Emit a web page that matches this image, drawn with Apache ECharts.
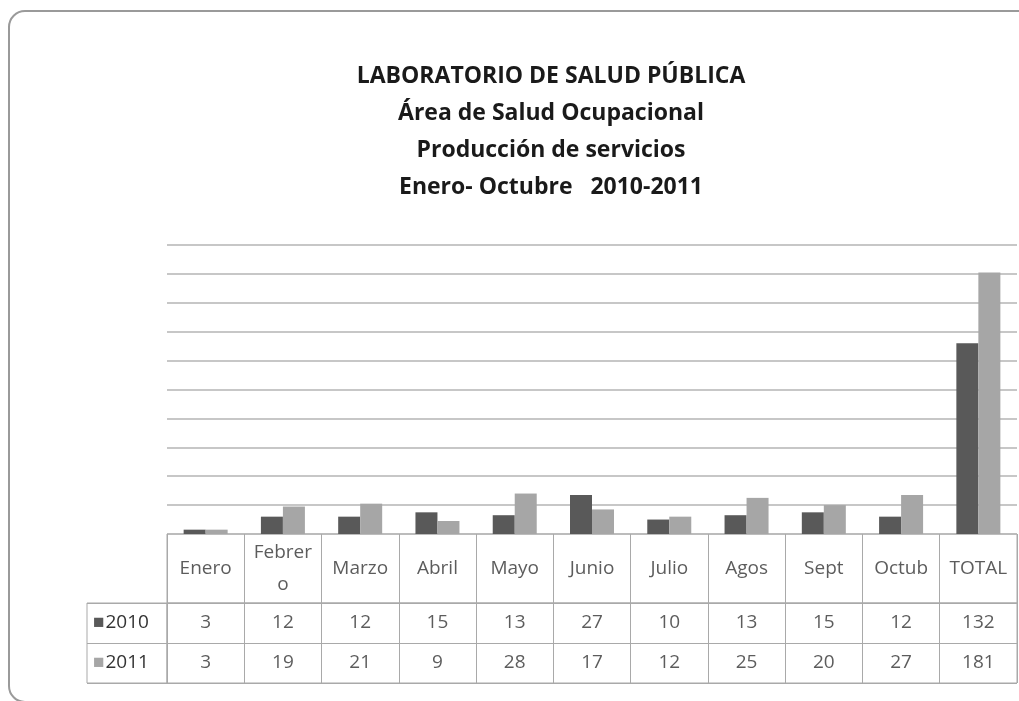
<!DOCTYPE html>
<html>
<head>
<meta charset="utf-8">
<script src="https://cdn.jsdelivr.net/npm/echarts@6/dist/echarts.min.js"></script>
<style>
  html, body { margin: 0; padding: 0; background: #fff; }
  #chart { width: 1019px; height: 701px; }
</style>
</head>
<body>
<div id="chart"></div>
<script>
var categorias = ['Enero', 'Febrero', 'Marzo', 'Abril', 'Mayo', 'Junio', 'Julio', 'Agos', 'Sept', 'Octub', 'TOTAL'];
var encabezados = ['Enero', 'Febrer\no', 'Marzo', 'Abril', 'Mayo', 'Junio', 'Julio', 'Agos', 'Sept', 'Octub', 'TOTAL'];
var anios = ['2010', '2011'];
var datos2010 = [3, 12, 12, 15, 13, 27, 10, 13, 15, 12, 132];
var datos2011 = [3, 19, 21, 9, 28, 17, 12, 25, 20, 27, 181];
var tituloLineas = ['LABORATORIO DE SALUD PÚBLICA', 'Área de Salud Ocupacional', 'Producción de servicios', 'Enero- Octubre   2010-2011'];

var colores = ['#595959', '#a6a6a6'];
var fuente = '"Open Sans", sans-serif';
var colorTabla = '#a9a9a9';
var colorTexto = '#333';

var myChart = echarts.init(document.getElementById('chart'));

var celdasValores = [];
[datos2010, datos2011].forEach(function (serie, fila) {
    serie.forEach(function (v, i) {
        celdasValores.push([categorias[i], anios[fila], v]);
    });
});

var option = {
    backgroundColor: '#fff',
    animation: false,
    title: {
        text: tituloLineas.join('\n'),
        left: 546,
        textAlign: 'center',
        top: 53,
        textStyle: {
            fontFamily: fuente,
            fontSize: 23,
            fontWeight: 'bold',
            color: '#1a1a1a',
            lineHeight: 37
        }
    },
    graphic: [{
        type: 'rect',
        silent: true,
        shape: { x: 9, y: 11, width: 1040, height: 691, r: 16 },
        style: { fill: 'none', stroke: '#9a9a9a', lineWidth: 2 }
    }],
    grid: [
        // barras
        { left: 167, top: 245, width: 850, height: 289 },
        // encabezados de la tabla
        { left: 167, top: 534, width: 850, height: 69, show: true, borderColor: colorTabla, borderWidth: 1 },
        // valores de la tabla
        { left: 167, top: 603, width: 850, height: 80, show: true, borderColor: colorTabla, borderWidth: 1 },
        // columna de leyenda
        { left: 87, top: 603, width: 80, height: 80, show: true, borderColor: colorTabla, borderWidth: 1 }
    ],
    xAxis: [
        {
            gridIndex: 0, type: 'category', data: categorias,
            axisLine: { show: false }, axisTick: { show: false }, axisLabel: { show: false }
        },
        {
            gridIndex: 1, type: 'category', data: categorias,
            axisLine: { show: false }, axisTick: { show: false }, axisLabel: { show: false },
            splitLine: { show: true, lineStyle: { color: colorTabla, width: 1 } }
        },
        {
            gridIndex: 2, type: 'category', data: categorias,
            axisLine: { show: false }, axisTick: { show: false }, axisLabel: { show: false },
            splitLine: { show: true, lineStyle: { color: colorTabla, width: 1 } }
        },
        {
            gridIndex: 3, type: 'category', data: [''],
            axisLine: { show: false }, axisTick: { show: false }, axisLabel: { show: false }
        }
    ],
    yAxis: [
        {
            gridIndex: 0, type: 'value', min: 0, max: 200, interval: 20,
            axisLine: { show: false }, axisTick: { show: false }, axisLabel: { show: false },
            splitLine: { show: true, lineStyle: { color: '#b4b4b4', width: 1.5 } }
        },
        {
            gridIndex: 1, type: 'category', data: [''],
            axisLine: { show: false }, axisTick: { show: false }, axisLabel: { show: false }
        },
        {
            gridIndex: 2, type: 'category', data: anios, inverse: true,
            axisLine: { show: false }, axisTick: { show: false }, axisLabel: { show: false },
            splitLine: { show: true, lineStyle: { color: colorTabla, width: 1 } }
        },
        {
            gridIndex: 3, type: 'category', data: anios, inverse: true,
            axisLine: { show: false }, axisTick: { show: false },
            splitLine: { show: true, lineStyle: { color: colorTabla, width: 1 } },
            axisLabel: {
                inside: true,
                margin: 6,
                formatter: function (val, idx) {
                    return '{s' + idx + '|■}{t|' + val + '}';
                },
                rich: {
                    s0: { color: colores[0], fontSize: 19, fontFamily: fuente, padding: [0, 1, 0, 0] },
                    s1: { color: colores[1], fontSize: 19, fontFamily: fuente, padding: [0, 1, 0, 0] },
                    t: { color: colorTexto, fontSize: 19, fontFamily: fuente }
                }
            }
        }
    ],
    series: [
        {
            name: '2010', type: 'bar', xAxisIndex: 0, yAxisIndex: 0,
            data: datos2010, barWidth: 22, barGap: '0%',
            itemStyle: { color: colores[0] }
        },
        {
            name: '2011', type: 'bar', xAxisIndex: 0, yAxisIndex: 0,
            data: datos2011, barWidth: 22, barGap: '0%',
            itemStyle: { color: colores[1] }
        },
        {
            name: 'encabezados', type: 'scatter', xAxisIndex: 1, yAxisIndex: 1,
            symbolSize: 0, silent: true,
            data: categorias.map(function (c, i) { return [c, '', encabezados[i]]; }),
            label: {
                show: true, position: 'inside',
                formatter: function (p) { return p.value[2]; },
                fontFamily: fuente, fontSize: 19, color: colorTexto, lineHeight: 32
            }
        },
        {
            name: 'valores', type: 'scatter', xAxisIndex: 2, yAxisIndex: 2,
            symbolSize: 0, silent: true,
            data: celdasValores,
            label: {
                show: true, position: 'inside',
                formatter: function (p) { return p.value[2]; },
                fontFamily: fuente, fontSize: 19, color: colorTexto
            }
        }
    ]
};

myChart.setOption(option, true);
</script>
</body>
</html>
